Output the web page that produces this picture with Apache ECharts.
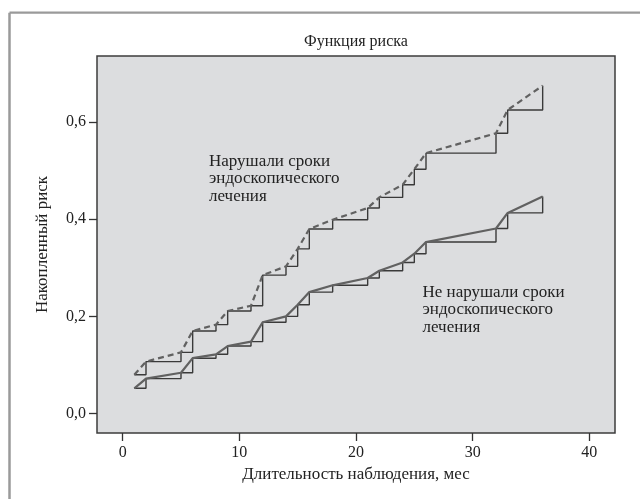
<!DOCTYPE html>
<html>
<head>
<meta charset="utf-8">
<script src="https://cdn.jsdelivr.net/npm/echarts@6/dist/echarts.min.js"></script>
<style>
  html, body { margin: 0; padding: 0; background: #ffffff; }
  #chart { width: 640px; height: 499px; }
</style>
</head>
<body>
<div id="chart"></div>
<script>
// Event times (months) shared by both groups
const timesMonths = [1, 2, 5, 6, 8, 9, 11, 12, 14, 15, 16, 18, 21, 22, 24, 25, 26, 32, 33, 36];
// Cumulative risk: group that violated the endoscopic treatment schedule
const riskViolated = [0.080, 0.107, 0.126, 0.170, 0.183, 0.211, 0.222, 0.285, 0.303, 0.339,
                      0.380, 0.399, 0.423, 0.445, 0.471, 0.503, 0.536, 0.577, 0.625, 0.675];
// Cumulative risk: group that kept to the schedule
const riskKept = [0.052, 0.072, 0.084, 0.114, 0.122, 0.139, 0.148, 0.188, 0.200, 0.224,
                  0.250, 0.264, 0.279, 0.294, 0.311, 0.329, 0.353, 0.381, 0.413, 0.447];
// Axis tick positions
const xTicks = [0, 10, 20, 30, 40];
const yTicks = [0, 0.2, 0.4, 0.6];

const FONT = '"Liberation Serif", "DejaVu Serif", serif';
const TEXT = '#222222';

function pairs(xs, ys) {
  return xs.map((x, i) => [x, ys[i]]);
}

const chart = echarts.init(document.getElementById('chart'), null, { renderer: 'canvas' });

chart.setOption({
  backgroundColor: '#ffffff',
  animation: false,
  grid: {
    left: 97, right: 25, top: 56, bottom: 66,
    show: true,
    backgroundColor: '#dcdddf',
    borderColor: '#3c3c3c',
    borderWidth: 1.5,
    containLabel: false,
    outerBoundsMode: 'none'
  },
  xAxis: {
    type: 'value',
    min: -2.2,
    max: 42.2,
    name: 'Длительность наблюдения, мес',
    nameLocation: 'middle',
    nameGap: 33,
    nameTextStyle: { fontFamily: FONT, fontSize: 17, color: TEXT },
    axisLine: { show: false, onZero: false },
    axisTick: { show: true, length: 8, customValues: xTicks, lineStyle: { color: '#333', width: 1.3 } },
    axisLabel: {
      customValues: xTicks, margin: 12,
      fontFamily: FONT, fontSize: 16, color: TEXT
    },
    splitLine: { show: false }
  },
  yAxis: {
    type: 'value',
    min: -0.04,
    max: 0.736,
    name: 'Накопленный риск',
    nameLocation: 'middle',
    nameGap: 46,
    nameTextStyle: { fontFamily: FONT, fontSize: 17, color: TEXT },
    axisLine: { show: false, onZero: false },
    axisTick: { show: true, length: 8, customValues: yTicks, lineStyle: { color: '#333', width: 1.3 } },
    axisLabel: {
      customValues: yTicks, margin: 11,
      fontFamily: FONT, fontSize: 16, color: TEXT,
      formatter: v => v.toFixed(1).replace('.', ',')
    },
    splitLine: { show: false }
  },
  series: [
    {
      name: 'steps-violated', type: 'line', step: 'end', symbol: 'none',
      data: pairs(timesMonths, riskViolated),
      lineStyle: { color: '#3a3a3a', width: 1.4 }, z: 2
    },
    {
      name: 'steps-kept', type: 'line', step: 'end', symbol: 'none',
      data: pairs(timesMonths, riskKept),
      lineStyle: { color: '#3a3a3a', width: 1.4 }, z: 2
    },
    {
      name: 'trend-violated', type: 'line', symbol: 'none',
      data: pairs(timesMonths, riskViolated),
      lineStyle: { color: '#616161', width: 2.2, type: [6, 4] }, z: 3
    },
    {
      name: 'trend-kept', type: 'line', symbol: 'none',
      data: pairs(timesMonths, riskKept),
      lineStyle: { color: '#616161', width: 2.2 }, z: 3
    }
  ],
  graphic: [
    // outer frame (top and left edges)
    { type: 'line', shape: { x1: 9.5, y1: 12.7, x2: 640, y2: 12.7 }, style: { stroke: '#9a9a9a', lineWidth: 2.2 } },
    { type: 'line', shape: { x1: 9.5, y1: 12.7, x2: 9.5, y2: 499 }, style: { stroke: '#9a9a9a', lineWidth: 2.5 } },
    {
      type: 'text', x: 356, y: 42,
      style: { text: 'Функция риска', font: '16px ' + FONT, fill: TEXT, textAlign: 'center', textVerticalAlign: 'middle' }
    },
    {
      type: 'text', x: 209, y: 153, z: 10,
      style: {
        text: 'Нарушали сроки\nэндоскопического\nлечения',
        font: '17px ' + FONT, fill: TEXT, lineHeight: 17.3, textAlign: 'left', textVerticalAlign: 'top'
      }
    },
    {
      type: 'text', x: 422.5, y: 284, z: 10,
      style: {
        text: 'Не нарушали сроки\nэндоскопического\nлечения',
        font: '17px ' + FONT, fill: TEXT, lineHeight: 17.3, textAlign: 'left', textVerticalAlign: 'top'
      }
    }
  ]
});
</script>
</body>
</html>
